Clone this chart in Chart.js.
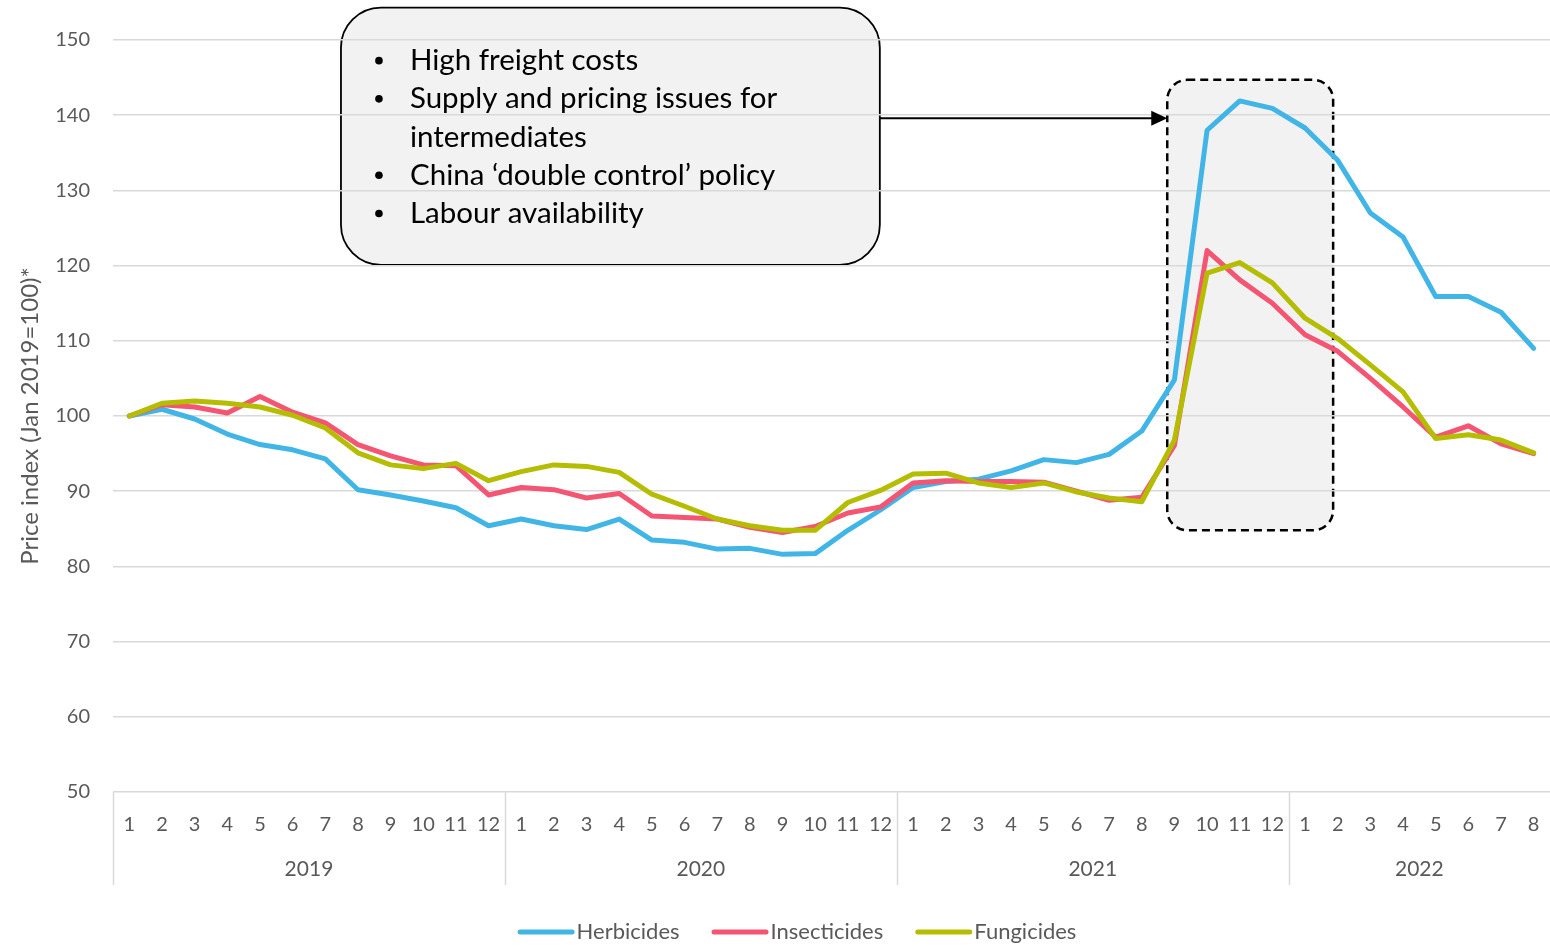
<!DOCTYPE html>
<html>
<head>
<meta charset="utf-8">
<script src="https://cdn.jsdelivr.net/npm/chart.js@4.4.1/dist/chart.umd.min.js"></script>
<style>
  html, body { margin: 0; padding: 0; background: #ffffff; overflow: hidden; }
  #wrap { width: 1550px; height: 946px; position: relative; }
</style>
</head>
<body>
<div id="wrap"><canvas id="chart"></canvas></div>
<script>
// Month labels, Jan 2019 .. Aug 2022
const months = [
  '1','2','3','4','5','6','7','8','9','10','11','12',
  '1','2','3','4','5','6','7','8','9','10','11','12',
  '1','2','3','4','5','6','7','8','9','10','11','12',
  '1','2','3','4','5','6','7','8'
];
const years = ['2019', '2020', '2021', '2022'];
const monthsPerYear = [12, 12, 12, 8];

// Price index, Jan 2019 = 100
const herbicides = [
  100.0, 100.9, 99.6, 97.6, 96.2, 95.5, 94.3, 90.2, 89.5, 88.7, 87.8, 85.4,
  86.3, 85.4, 84.9, 86.3, 83.5, 83.2, 82.3, 82.4, 81.6, 81.7, 84.8, 87.5,
  90.5, 91.3, 91.6, 92.7, 94.2, 93.8, 94.9, 98.0, 104.8, 138.0, 141.9, 140.9,
  138.3, 134.0, 127.0, 123.8, 115.9, 115.9, 113.8, 109.0
];
const insecticides = [
  100.0, 101.5, 101.2, 100.4, 102.6, 100.5, 99.1, 96.2, 94.7, 93.5, 93.4, 89.5,
  90.5, 90.2, 89.1, 89.7, 86.7, 86.5, 86.3, 85.2, 84.5, 85.3, 87.1, 87.9,
  91.1, 91.4, 91.3, 91.3, 91.2, 90.0, 88.8, 89.2, 96.1, 122.0, 118.1, 115.0,
  110.8, 108.6, 105.0, 101.2, 97.2, 98.7, 96.3, 95.0
];
const fungicides = [
  100.0, 101.7, 102.0, 101.7, 101.2, 100.1, 98.4, 95.1, 93.5, 93.0, 93.7, 91.4,
  92.6, 93.5, 93.3, 92.5, 89.6, 88.0, 86.3, 85.4, 84.8, 84.8, 88.5, 90.1,
  92.3, 92.4, 91.1, 90.5, 91.1, 89.9, 89.1, 88.6, 96.8, 119.0, 120.4, 117.7,
  113.0, 110.3, 106.8, 103.2, 97.0, 97.5, 96.8, 95.1
];
const yTicks = [50, 60, 70, 80, 90, 100, 110, 120, 130, 140, 150];

// Drivers listed in the call-out panel
const drivers = [
  { text: 'High freight costs', bullet: true },
  { text: 'Supply and pricing issues for', bullet: true },
  { text: 'intermediates', bullet: false },
  { text: 'China \u2018double control\u2019 policy', bullet: true },
  { text: 'Labour availability', bullet: true }
];

const FONT = 'Lato, "Open Sans", "DejaVu Sans", sans-serif';
const TEXT = '#595959';
const GRID = '#d9d9d9';

function roundRect(ctx, x, y, w, h, r) {
  ctx.beginPath();
  ctx.moveTo(x + r, y);
  ctx.lineTo(x + w - r, y);
  ctx.arcTo(x + w, y, x + w, y + r, r);
  ctx.lineTo(x + w, y + h - r);
  ctx.arcTo(x + w, y + h, x + w - r, y + h, r);
  ctx.lineTo(x + r, y + h);
  ctx.arcTo(x, y + h, x, y + h - r, r);
  ctx.lineTo(x, y + r);
  ctx.arcTo(x, y, x + r, y, r);
  ctx.closePath();
}

// Call-out panel and highlighted period, placed in axis units
const panel = { x0: 6.48, x1: 22.98, y0: 154.3, y1: 120.1, arrowY: 139.6 };
const highlight = { x0: 31.78, x1: 36.86, y0: 144.7, y1: 84.8 };

const annotations = {
  id: 'annotations',
  beforeDraw(chart) {
    const { ctx, scales: { x, y } } = chart;
    ctx.save();
    // highlighted period
    const hx0 = x.getPixelForValue(highlight.x0), hx1 = x.getPixelForValue(highlight.x1);
    const hy0 = y.getPixelForValue(highlight.y0), hy1 = y.getPixelForValue(highlight.y1);
    roundRect(ctx, hx0, hy0, hx1 - hx0, hy1 - hy0, 20);
    ctx.fillStyle = '#f2f2f2';
    ctx.fill();
    ctx.setLineDash([8, 5]);
    ctx.lineWidth = 2.5;
    ctx.strokeStyle = '#000000';
    ctx.stroke();
    ctx.setLineDash([]);
    // panel
    const px0 = x.getPixelForValue(panel.x0), px1 = x.getPixelForValue(panel.x1);
    const py0 = y.getPixelForValue(panel.y0), py1 = y.getPixelForValue(panel.y1);
    roundRect(ctx, px0, py0, px1 - px0, py1 - py0, 40);
    ctx.fillStyle = '#f2f2f2';
    ctx.fill();
    ctx.lineWidth = 1.8;
    ctx.strokeStyle = '#000000';
    ctx.stroke();
    ctx.restore();
  },
  afterDraw(chart) {
    const { ctx, scales: { x, y } } = chart;
    ctx.save();
    const px0 = x.getPixelForValue(panel.x0), px1 = x.getPixelForValue(panel.x1);
    const py0 = y.getPixelForValue(panel.y0);
    // panel text
    ctx.fillStyle = '#000000';
    ctx.font = '29.5px ' + FONT;
    ctx.textBaseline = 'middle';
    drivers.forEach((d, i) => {
      const ty = py0 + 53 + i * 38.2;
      if (d.bullet) {
        ctx.beginPath();
        ctx.arc(px0 + 38, ty, 3.8, 0, Math.PI * 2);
        ctx.fill();
      }
      ctx.fillText(d.text, px0 + 69, ty);
    });
    // arrow to the highlighted period
    const ay = y.getPixelForValue(panel.arrowY);
    const tipX = x.getPixelForValue(highlight.x0);
    ctx.strokeStyle = '#000000';
    ctx.lineWidth = 2;
    ctx.beginPath();
    ctx.moveTo(px1, ay);
    ctx.lineTo(tipX - 12, ay);
    ctx.stroke();
    ctx.beginPath();
    ctx.moveTo(tipX, ay);
    ctx.lineTo(tipX - 16, ay - 7.5);
    ctx.lineTo(tipX - 16, ay + 7.5);
    ctx.closePath();
    ctx.fill();
    ctx.restore();
  }
};

// Year groups under the month labels, with separators
const yearAxis = {
  id: 'yearAxis',
  afterDraw(chart) {
    const { ctx, chartArea, scales: { x } } = chart;
    ctx.save();
    ctx.strokeStyle = GRID;
    ctx.lineWidth = 1.5;
    ctx.fillStyle = TEXT;
    ctx.font = '21px ' + FONT;
    ctx.textAlign = 'center';
    ctx.textBaseline = 'middle';
    let start = 0;
    years.forEach((yr, i) => {
      const n = monthsPerYear[i];
      const left = x.getPixelForValue(start - 0.5);
      const sx = Math.round(left) + 0.5;
      ctx.beginPath();
      ctx.moveTo(sx, chartArea.bottom);
      ctx.lineTo(sx, chartArea.bottom + 93);
      ctx.stroke();
      const cx = x.getPixelForValue(start + (n - 1) / 2);
      ctx.fillText(yr, cx, chartArea.bottom + 77);
      start += n;
    });
    ctx.restore();
  }
};

// Series key along the bottom: a line swatch followed by the series name
const seriesKey = {
  id: 'seriesKey',
  afterDraw(chart) {
    const { ctx } = chart;
    const swatch = 57, gap = 2, spacing = 32, cy = 932, centerX = 797;
    ctx.save();
    ctx.font = '22px ' + FONT;
    ctx.textBaseline = 'middle';
    const items = chart.data.datasets.map(ds => ({
      label: ds.label, color: ds.borderColor,
      w: swatch + gap + ctx.measureText(ds.label).width
    }));
    const total = items.reduce((s, it) => s + it.w, 0) + spacing * (items.length - 1);
    let cx = centerX - total / 2;
    items.forEach(it => {
      ctx.strokeStyle = it.color;
      ctx.lineWidth = 5;
      ctx.lineCap = 'round';
      ctx.beginPath();
      ctx.moveTo(cx + 2.5, cy);
      ctx.lineTo(cx + swatch - 2.5, cy);
      ctx.stroke();
      ctx.fillStyle = TEXT;
      ctx.fillText(it.label, cx + swatch + gap, cy);
      cx += it.w + spacing;
    });
    ctx.restore();
  }
};

const mkSet = (label, data, color, order) => ({
  label, data, order,
  borderColor: color,
  backgroundColor: color,
  borderWidth: 5,
  pointRadius: 0,
  pointHoverRadius: 0,
  tension: 0,
  fill: false,
  borderJoinStyle: 'round',
  borderCapStyle: 'round'
});

new Chart(document.getElementById('chart'), {
  type: 'line',
  data: {
    labels: months,
    datasets: [
      mkSet('Herbicides', herbicides, '#41b6e6', 2),
      mkSet('Insecticides', insecticides, '#f45572', 1),
      mkSet('Fungicides', fungicides, '#b5bd00', 0)
    ]
  },
  options: {
    responsive: true,
    maintainAspectRatio: false,
    animation: false,
    layout: { padding: { top: 40, right: 0, bottom: 61, left: 0 } },
    plugins: {
      tooltip: { enabled: false },
      legend: { display: false }
    },
    scales: {
      x: {
        type: 'category',
        offset: true,
        grid: { display: false },
        border: { display: false },
        ticks: {
          color: TEXT,
          font: { family: FONT, size: 20 },
          padding: 13,
          autoSkip: false,
          maxRotation: 0
        },
        afterFit(scale) {
          scale.height = 93;
          scale.paddingLeft = 0;
          scale.paddingRight = 0;
        }
      },
      y: {
        min: 50,
        max: 150,
        afterBuildTicks(scale) { scale.ticks = yTicks.map(v => ({ value: v })); },
        grid: { color: GRID, lineWidth: 1.5, drawTicks: false },
        border: { display: false },
        ticks: {
          color: TEXT,
          font: { family: FONT, size: 20 },
          padding: 23
        },
        title: {
          display: true,
          text: 'Price index (Jan 2019=100)*',
          color: TEXT,
          font: { family: FONT, size: 24 },
          padding: { top: 16, bottom: 0 }
        },
        afterFit(scale) { scale.width = 113; }
      }
    }
  },
  plugins: [annotations, yearAxis, seriesKey]
});
</script>
</body>
</html>
